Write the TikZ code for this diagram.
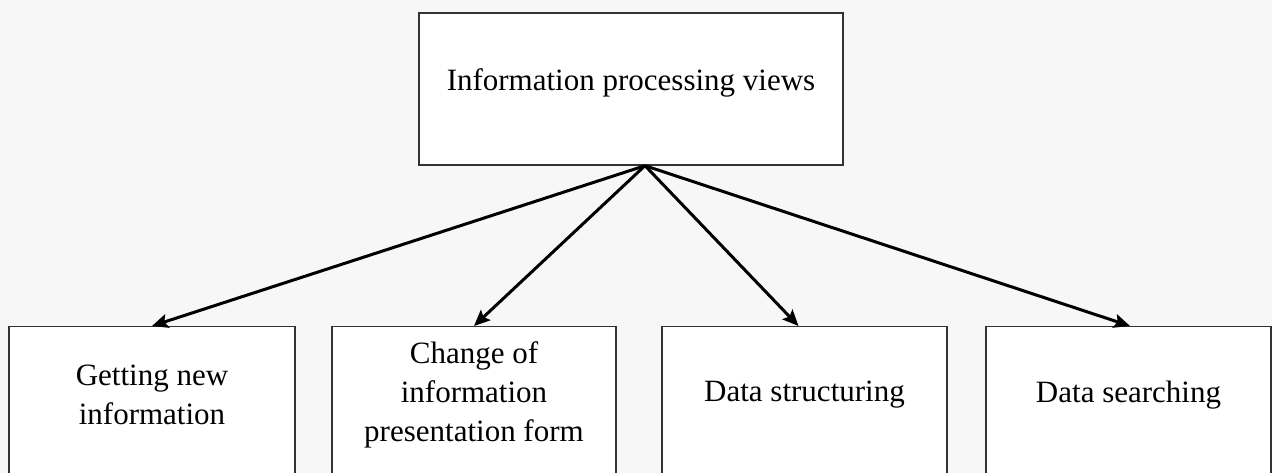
\documentclass[tikz,border=0pt]{standalone}
\usepackage{fontspec}
\setmainfont{Liberation Serif}
\usetikzlibrary{arrows.meta,calc}
\begin{document}
\begin{tikzpicture}[x=1pt,y=-1pt,
  box/.style={draw=black!80, line width=1.4pt, fill=white, inner sep=0pt, rectangle},
  lbl/.style={inner sep=0pt, align=center, font=\fontsize{31}{39}\selectfont},
  arr/.style={line width=3pt, -{Stealth[length=16pt,width=14pt,inset=3pt]}}]
\useasboundingbox (0,0) rectangle (1272,473);
\clip (0,0) rectangle (1272,473);
\fill[black!3] (0,0) rectangle (1272,473);
% top
\node[box, minimum width=424pt, minimum height=152pt] (top) at (631,89) {};
\node[lbl] (ttop) at (631,83) {Information processing views};
\coordinate (apex) at ($(top.south)+(14,0)$);
% bottom boxes
\node[box, minimum width=286pt, minimum height=220pt, anchor=north] (b1) at (152,326) {};
\node[box, minimum width=284pt, minimum height=220pt, anchor=north] (b2) at (474,326) {};
\node[box, minimum width=285pt, minimum height=220pt, anchor=north] (b3) at (804.5,326) {};
\node[box, minimum width=285pt, minimum height=220pt, anchor=north] (b4) at (1128.5,326) {};
\node[lbl] (t1) at ($(b1.north)+(0,68.5)$) {Getting new\\information};
\node[lbl] (t2) at ($(b2.north)+(0,68.5)$) {Change of\\information\\presentation form};
\node[lbl] (t3) at ($(b3.north)+(0,69)$) {Data structuring};
\node[lbl] (t4) at ($(b4.north)+(0,69)$) {Data searching};
% arrows
\draw[arr] (apex) -- (b1.north);
\draw[arr] (apex) -- (b2.north);
\draw[arr] (apex) -- ($(b3.north)+(-6,0)$);
\draw[arr] (apex) -- ($(b4.north)+(1.5,0)$);
\end{tikzpicture}
\end{document}
